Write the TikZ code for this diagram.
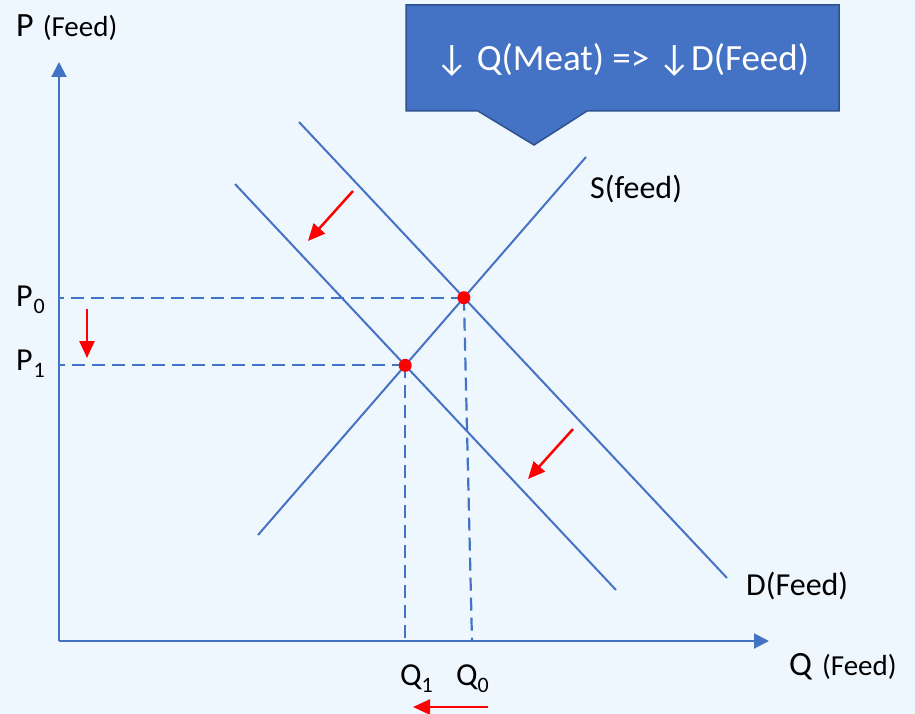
\documentclass[tikz,border=0pt]{standalone}
\usepackage{fontspec}
\setmainfont{Carlito}
\usetikzlibrary{arrows.meta}
\definecolor{bg}{HTML}{EFF7FE}
\definecolor{ax}{HTML}{4472C4}
\definecolor{axd}{HTML}{2F528F}
\definecolor{arr}{HTML}{FF0000}
\newcommand{\fsz}[1]{\fontsize{#1}{#1}\selectfont}
\tikzset{
  axisline/.style={draw=ax, line width=2pt, -{Triangle[length=15pt,width=15pt]}},
  curve/.style={draw=ax, line width=2pt},
  dashline/.style={draw=ax, line width=2.2pt, dash pattern=on 13pt off 7pt},
  shiftarrow/.style={draw=arr, line width=2.5pt, -{Triangle[length=17pt,width=15pt]}},
  eqdot/.style={circle, fill=arr, inner sep=0pt, minimum size=13pt},
  lbl/.style={inner sep=0pt, anchor=base west, text=black},
}
\begin{document}
\begin{tikzpicture}[x=1pt,y=-1pt]
\fill[bg] (0,0) rectangle (915,714);
\useasboundingbox (0,0) rectangle (915,714);

% axes
\coordinate (O) at (59,641);
\coordinate (ytop) at (59,62);
\coordinate (xend) at (769,641);
\draw[axisline] (O) -- (ytop);
\draw[axisline] (O) -- (xend);

% curves
\coordinate (S1) at (258,535);
\coordinate (S2) at (586,157);
\coordinate (D0a) at (299,122);
\coordinate (D0b) at (727,578);
\coordinate (D1a) at (235,184);
\coordinate (D1b) at (616,590);
\draw[curve] (S1) -- (S2);
\draw[curve] (D0a) -- (D0b);
\draw[curve] (D1a) -- (D1b);

% equilibria
\coordinate (E0) at (intersection of S1--S2 and D0a--D0b);
\coordinate (E1) at (intersection of S1--S2 and D1a--D1b);
\coordinate (Q0) at (472,641);
\draw[dashline] (E0) -- (E0 -| O);
\draw[dashline] (E1) -- (E1 -| O);
\draw[dashline] (E0) -- (Q0);
\draw[dashline] (E1) -- (E1 |- O);
\node[eqdot] (e0) at (E0) {};
\node[eqdot] (e1) at (E1) {};

% shift arrows
\coordinate (pa) at (87,309);  \coordinate (pb) at (87,358);
\coordinate (qa) at (488,707); \coordinate (qb) at (413,707);
\coordinate (da) at (353,191); \coordinate (db) at (308,241);
\coordinate (dc) at (573,429); \coordinate (dd) at (528,479);
\draw[shiftarrow] (pa) -- (pb);
\draw[shiftarrow] (qa) -- (qb);
\draw[shiftarrow] (da) -- (db);
\draw[shiftarrow] (dc) -- (dd);

% labels
\node[lbl] (plab) at (16,37) {\fsz{34}P\hspace{9pt}\fsz{29}(Feed)};
\node[lbl] (qlab) at (789,675) {\fsz{34}Q\hspace{10pt}\fsz{29}(Feed)};
\node[lbl] (slab) at (590,198) {\fsz{32}S(feed)};
\node[lbl] (dlab) at (746,595) {\fsz{32}D(Feed)};
\node[lbl] (p0) at (16,306) {\fsz{32}P\hspace{1pt}\raisebox{-7pt}{\fsz{22}0}};
\node[lbl] (p1) at (16,370) {\fsz{32}P\hspace{1pt}\raisebox{-7pt}{\fsz{22}1}};
\node[lbl] (q1) at (400,685) {\fsz{32}Q\raisebox{-7pt}{\fsz{22}1}};
\node[lbl] (q0) at (456,685) {\fsz{32}Q\raisebox{-7pt}{\fsz{22}0}};

% callout
\fill[ax] (406,5) -- (839,5) -- (839,111) -- (587,111) -- (534,145) -- (478,111) -- (406,111) -- cycle;
\draw[axd, line width=1.5pt] (406,5) -- (839,5) -- (839,111) -- (587,111) -- (534,145) -- (478,111) -- (406,111) -- cycle;
\node[text=white, inner sep=0pt] (call) at (622,60) {\fsz{37}↓ Q(Meat) => ↓D(Feed)};
\end{tikzpicture}
\end{document}
